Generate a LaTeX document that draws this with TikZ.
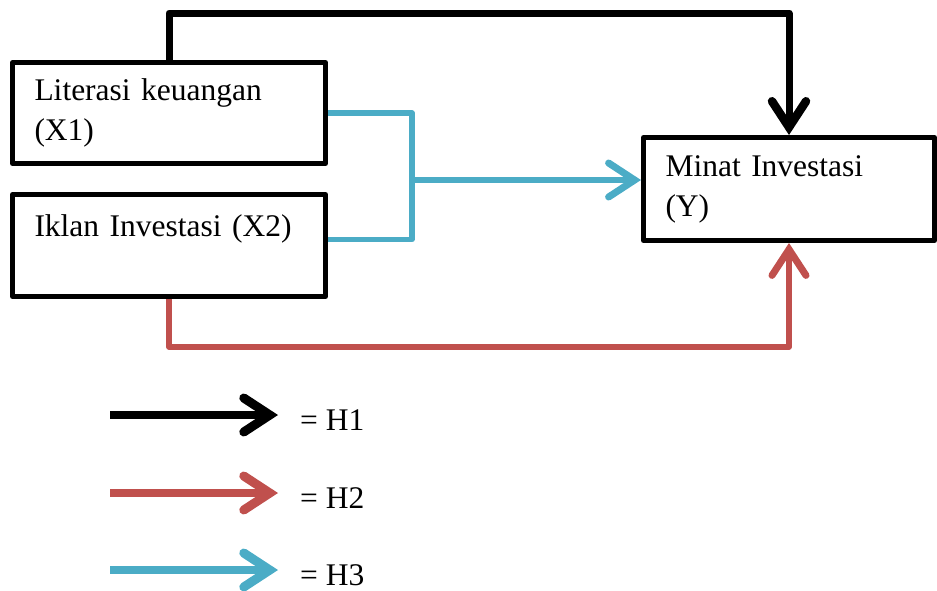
\documentclass[tikz,border=0pt]{standalone}
\usepackage{fontspec}
\setmainfont{Liberation Serif}
\usetikzlibrary{arrows.meta,calc}
\definecolor{hred}{HTML}{C0504D}
\definecolor{hcyan}{HTML}{4BACC6}
\begin{document}
\begin{tikzpicture}[x=1pt,y=-1pt,line join=round,
    every node/.style={font=\fontsize{31.5}{40}\selectfont},
    >={Straight Barb[length=26pt,width=34pt,line cap=round,line width=+1.5pt 1]},
    varbox/.style={draw,line width=5pt,inner xsep=22pt,align=left},
    h1/.style={line width=7pt,black},
    h2/.style={line width=5.5pt,hred},
    h3/.style={line width=5.5pt,hcyan}]
    \useasboundingbox(0,0)rectangle(937,590);
    \node[varbox,text width=269pt,minimum height=101pt](x1)at(169,113)
      {Literasi keuangan\\(X1)};
    \node[varbox,text width=269pt,minimum height=102pt](x2)at(169,245.5)
      {Iklan Investasi (X2)\\\mbox{}};
    \node[varbox,text width=247pt,minimum height=103pt](y)at(789,189)
      {Minat Investasi\\(Y)};
    % paths to Y
    \draw[h1,->](x1.north)--++(0,-47)-|(y.north);
    \draw[h2,->](x2.south)--++(0,48)-|(y.south);
    \coordinate(junc)at(412,180);
    \draw[h3](x1.east)-|(junc)|-($(x2.east)+(0,-6)$);
    \draw[h3,->](junc)--(junc-|y.west);
    % legend
    \foreach \h/\st/\yy in {H1/h1/415,H2/h2/493,H3/h3/570}{
      \coordinate(s\h)at(110,\yy);
      \coordinate(e\h)at(278,\yy);
      \draw[\st,->,line width=7.5pt](s\h)--(e\h);
      \node[anchor=base west,inner sep=0pt](l\h)at(300,\yy+15){= \h};
    }
  \end{tikzpicture}
\end{document}
